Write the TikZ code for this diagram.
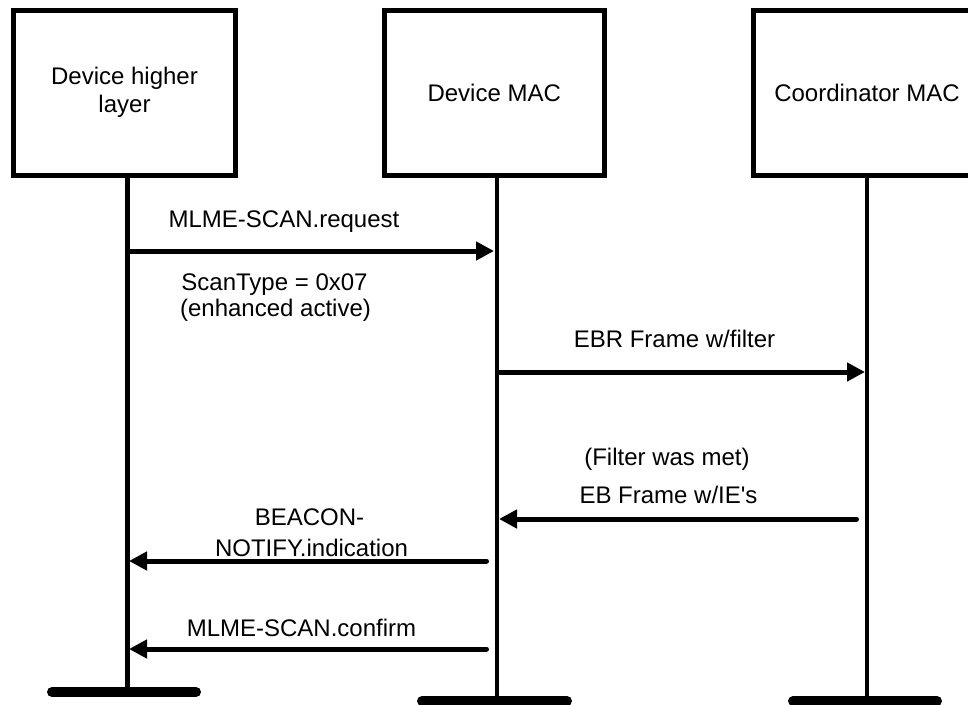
\documentclass[tikz,border=0pt]{standalone}
\usepackage{fontspec}
\setmainfont{Liberation Sans}[Ligatures=TeXOff]
\usetikzlibrary{arrows.meta}
\begin{document}
\begin{tikzpicture}[x=1pt,y=-1pt,
  every node/.style={font=\fontsize{24}{28}\selectfont},
  actor/.style={draw, line width=5pt, inner sep=0pt, align=center, minimum height=165.5pt},
  life/.style={line width=4.5pt},
  foot/.style={line width=10pt, line cap=round},
  msg/.style={line width=5pt, line cap=round, -{Triangle[length=18pt,width=18pt]}},
  lbl/.style={anchor=base, inner sep=0pt}]

% canvas
\fill[white] (0,0) rectangle (968,704);
\useasboundingbox (0,0) rectangle (968,704);

% participants
\node[actor, minimum width=222pt]   (hl) at (124.5,92.75) {Device higher\\layer};
\node[actor, minimum width=220.5pt] (dm) at (494.25,92.75) {Device MAC};
\node[actor, minimum width=228pt]   (cm) at (867,92.75) {Coordinator MAC};

% lifeline feet
\coordinate (hlF) at (127.5,692);
\coordinate (dmF) at (497,701);
\coordinate (cmF) at (867,701);

% lifelines
\draw[life] (hl.south -| hlF) -- (hlF);
\draw[life] (dm.south -| dmF) -- (dmF);
\draw[life] (cm.south -| cmF) -- (cmF);

% foot bars
\draw[foot] ([xshift=-75.5pt]hlF) -- ([xshift=68.5pt]hlF);
\draw[foot] ([xshift=-75pt]dmF) -- ([xshift=70pt]dmF);
\draw[foot] ([xshift=-74pt]cmF) -- ([xshift=70pt]cmF);

% message end points
\coordinate (reqA) at (127.5,251);  \coordinate (reqB) at (494,251);
\coordinate (ebrA) at (500,372);    \coordinate (ebrB) at (865,372);
\coordinate (ebA)  at (856.5,519);  \coordinate (ebB)  at (499,519);
\coordinate (bnA)  at (486.5,561);  \coordinate (bnB)  at (129,561);
\coordinate (cfA)  at (486.5,649);  \coordinate (cfB)  at (129,649);

% messages
\draw[msg] (reqA) -- (reqB);
\draw[msg] (ebrA) -- (ebrB);
\draw[msg] (ebA) -- (ebB);
\draw[msg] (bnA) -- (bnB);
\draw[msg] (cfA) -- (cfB);

% message labels
\node[lbl] (reqL)  at (284,227)   {MLME-SCAN.request};
\node[lbl] (scanL) at (274.5,290.5) {ScanType = 0x07};
\node[lbl] (enhL)  at (275.5,316) {(enhanced active)};
\node[lbl] (ebrL)  at (674.5,347) {EBR Frame w/filter};
\node[lbl] (fltL)  at (667,465)   {(Filter was met)};
\node[lbl] (ebL)   at (668.5,503) {EB Frame w/IE's};
\node[lbl] (bnL1)  at (309.5,525) {BEACON-};
\node[lbl] (bnL2)  at (311.5,556) {NOTIFY.indication};
\node[lbl] (cfL)   at (301.5,636) {MLME-SCAN.confirm};
\end{tikzpicture}
\end{document}
